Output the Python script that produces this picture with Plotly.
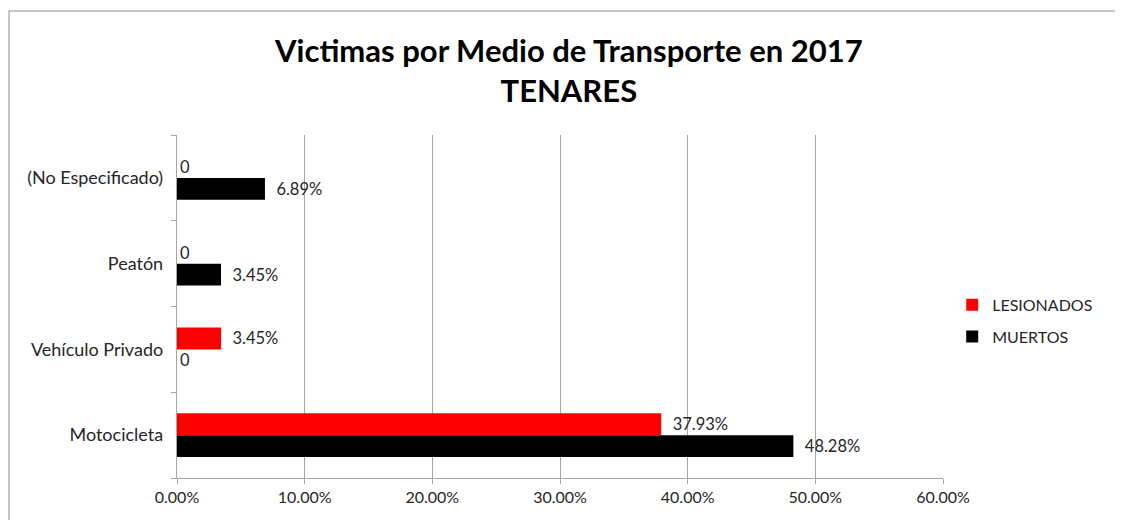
import plotly.graph_objects as go

categories = ["Motocicleta", "Vehículo Privado", "Peatón", "(No Especificado)"]
lesionados = [0.3793, 0.0345, 0.0, 0.0]
muertos = [0.4828, 0.0, 0.0345, 0.0689]
x_ticks = [0, 0.1, 0.2, 0.3, 0.4, 0.5, 0.6]
x_tick_labels = ["0.00%", "10.00%", "20.00%", "30.00%", "40.00%", "50.00%", "60.00%"]


def fmt(v):
    return "0" if v == 0 else f"  {v * 100:.2f}%"


FONT = "Lato"
TXT = "#262626"

fig = go.Figure()
fig.add_trace(go.Bar(
    y=categories, x=muertos, orientation="h", name="MUERTOS",
    legendgroup="m", legendrank=2,
    marker=dict(color="#000000", line=dict(color="#000000", width=0)),
    text=[fmt(v) for v in muertos], textposition="outside",
    textfont=dict(family=FONT, size=16.5, color=TXT), cliponaxis=False,
))
fig.add_trace(go.Bar(
    y=categories, x=lesionados, orientation="h", name="LESIONADOS",
    legendgroup="l", legendrank=1,
    marker=dict(color="#ff0000", line=dict(color="#ff0000", width=0)),
    text=[fmt(v) for v in lesionados], textposition="outside",
    textfont=dict(family=FONT, size=16.5, color=TXT), cliponaxis=False,
))

fig.update_layout(
    width=1115, height=512,
    paper_bgcolor="white", plot_bgcolor="white",
    margin=dict(l=169, r=180, t=127, b=42),
    barmode="group", bargap=0.49, bargroupgap=0.0,
    title=dict(
        text="<b>Victimas por Medio de Transporte en 2017<br>TENARES</b>",
        x=0.503, xanchor="center", y=0.895, yanchor="middle",
        font=dict(family=FONT, size=31, color="#000000"),
    ),
    legend=dict(
        x=1.012, y=0.458, xanchor="left", yanchor="middle",
        traceorder="grouped", tracegroupgap=8,
        font=dict(family=FONT, size=16, color=TXT),
        itemwidth=30,
    ),
    xaxis=dict(
        range=[0, 0.6], tickvals=x_ticks, ticktext=x_tick_labels,
        showgrid=True, gridcolor="#a6a6a6", gridwidth=1,
        showline=True, linecolor="#a6a6a6", linewidth=1,
        ticks="outside", ticklen=5, tickcolor="#a6a6a6",
        tickfont=dict(family=FONT, size=16, color=TXT),
        zeroline=False, fixedrange=True,
    ),
    yaxis=dict(
        showgrid=False, showline=True, linecolor="#a6a6a6", linewidth=1,
        ticks="outside", ticklen=5, tickcolor="#a6a6a6", tickson="boundaries",
        tickfont=dict(family=FONT, size=18, color=TXT),
        ticksuffix="  ", fixedrange=True,
    ),
    shapes=[dict(
        type="rect", xref="paper", yref="paper",
        x0=-0.2193, x1=1.5, y0=-0.3, y1=1.3615,
        line=dict(color="#8c8c8c", width=1), fillcolor="rgba(0,0,0,0)",
        layer="below",
    )],
)

fig.write_html("out.html")
